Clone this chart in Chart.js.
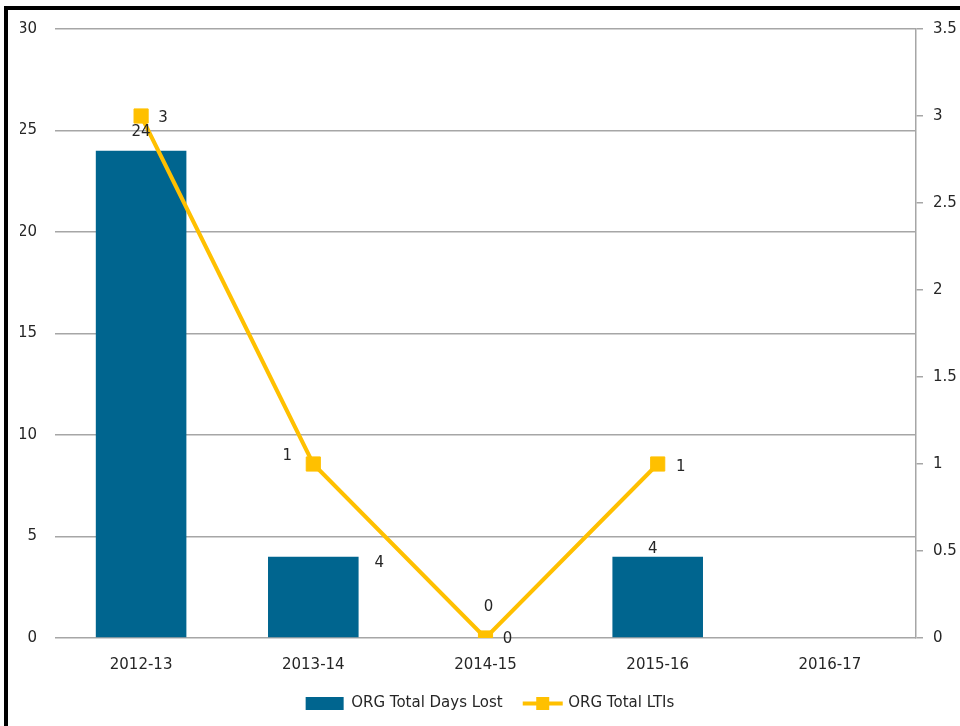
<!DOCTYPE html>
<html>
<head>
<meta charset="utf-8">
<script src="https://cdn.jsdelivr.net/npm/chart.js@4"></script>
<style>
html,body{margin:0;padding:0;background:#fff;}
#wrap{position:relative;width:960px;height:726px;}
</style>
</head>
<body>
<div id="wrap"><canvas id="c" width="960" height="726"></canvas></div>
<script>
const categories = ['2012-13', '2013-14', '2014-15', '2015-16', '2016-17'];
const daysLost = [24, 4, 0, 4, null];
const totalLTIs = [3, 1, 0, 1, null];
const seriesNames = ['ORG Total Days Lost', 'ORG Total LTIs'];

// label offsets (pixels) relative to the mark
const barLabelOffsets = [[0, -19], [66, 6], [3, -31], [-5, -8], [0, 0]];
const lineLabelOffsets = [[22, 2], [-26, -8], [22, 1], [23, 3], [0, 0]];

const BAR_COLOR = '#00658F';
const LINE_COLOR = '#FFC000';
const GRID = '#a6a6a6';
const TEXT = '#262626';
const FONT = 'DejaVu Sans';

Chart.defaults.font.family = FONT;
Chart.defaults.font.size = 15;
Chart.defaults.color = TEXT;

const frame = {
  id: 'frame',
  beforeDraw(chart) {
    const ctx = chart.ctx;
    ctx.save();
    ctx.fillStyle = '#fff';
    ctx.fillRect(0, 0, chart.width, chart.height);
    ctx.fillStyle = '#000';
    ctx.fillRect(4, 6, 4, chart.height - 6);
    ctx.fillRect(4, 6, chart.width - 4, 4);
    ctx.restore();
  }
};

const dataLabels = {
  id: 'dataLabels',
  afterDatasetsDraw(chart) {
    const ctx = chart.ctx;
    ctx.save();
    ctx.font = '15px "' + FONT + '"';
    ctx.fillStyle = TEXT;
    ctx.textAlign = 'center';
    ctx.textBaseline = 'middle';
    const drawFor = (dsIndex, values, offsets) => {
      const meta = chart.getDatasetMeta(dsIndex);
      meta.data.forEach((el, i) => {
        const v = values[i];
        if (v === null || v === undefined) return;
        ctx.fillText(String(v), el.x + offsets[i][0], el.y + offsets[i][1]);
      });
    };
    drawFor(1, daysLost, barLabelOffsets);
    drawFor(0, totalLTIs, lineLabelOffsets);
    ctx.restore();
  }
};

const legendLineMarker = {
  id: 'legendLineMarker',
  afterDraw(chart) {
    const lg = chart.legend;
    if (!lg || !lg.legendItems) return;
    const ctx = chart.ctx;
    lg.legendItems.forEach((item, i) => {
      if (item.datasetIndex !== 0) return;
      const hb = lg.legendHitBoxes[i];
      const bw = lg.options.labels.boxWidth;
      const cy = hb.top + hb.height / 2;
      ctx.save();
      ctx.strokeStyle = LINE_COLOR;
      ctx.lineWidth = 4;
      ctx.beginPath();
      ctx.moveTo(hb.left, cy);
      ctx.lineTo(hb.left + bw + 2, cy);
      ctx.stroke();
      ctx.fillStyle = LINE_COLOR;
      ctx.fillRect(hb.left + bw / 2 + 1 - 6.5, cy - 6.5, 13, 13);
      ctx.restore();
    });
  }
};

new Chart(document.getElementById('c'), {
  data: {
    labels: categories,
    datasets: [
      {
        type: 'line',
        label: seriesNames[1],
        data: totalLTIs,
        yAxisID: 'y1',
        borderColor: LINE_COLOR,
        backgroundColor: LINE_COLOR,
        borderWidth: 4,
        tension: 0,
        pointStyle: 'rect',
        pointRadius: 10,
        pointBorderWidth: 1,
        pointBackgroundColor: LINE_COLOR,
        pointBorderColor: LINE_COLOR,
        order: 0
      },
      {
        type: 'bar',
        label: seriesNames[0],
        data: daysLost,
        yAxisID: 'y',
        backgroundColor: BAR_COLOR,
        borderWidth: 0,
        barPercentage: 1,
        categoryPercentage: 0.526,
        order: 0
      }
    ]
  },
  options: {
    responsive: false,
    animation: false,
    events: [],
    layout: { padding: { left: 20, right: 0, top: 29, bottom: 5 } },
    plugins: {
      tooltip: { enabled: false },
      legend: {
        position: 'bottom',
        labels: {
          boxWidth: 38,
          boxHeight: 13,
          padding: 20,
          color: TEXT,
          font: { size: 15, family: FONT },
          sort: (a, b) => b.datasetIndex - a.datasetIndex,
          generateLabels(chart) {
            const items = Chart.defaults.plugins.legend.labels.generateLabels(chart);
            items.forEach(it => {
              if (it.datasetIndex === 0) {
                it.fillStyle = 'rgba(0,0,0,0)';
                it.strokeStyle = 'rgba(0,0,0,0)';
                it.lineWidth = 0;
              } else {
                it.fillStyle = BAR_COLOR;
                it.strokeStyle = BAR_COLOR;
                it.lineWidth = 0;
              }
            });
            return items;
          }
        }
      }
    },
    scales: {
      x: {
        grid: { display: false },
        border: { display: false },
        ticks: { padding: 10, color: TEXT, font: { size: 15 } },
        afterFit(scale) { scale.height = 38; }
      },
      y: {
        position: 'left',
        min: 0,
        max: 30,
        ticks: { stepSize: 5, padding: 18, color: TEXT, font: { size: 15 } },
        grid: { color: GRID, lineWidth: 1.5, drawTicks: false },
        border: { display: false },
        afterFit(scale) { scale.width = 35; }
      },
      y1: {
        position: 'right',
        min: 0,
        max: 3.5,
        ticks: {
          stepSize: 0.5, padding: 10, color: TEXT, font: { size: 15 },
          callback: (v) => String(v)
        },
        grid: { drawOnChartArea: false, drawTicks: true, tickLength: 7, color: GRID, lineWidth: 1.5 },
        border: { display: true, color: GRID, width: 1.5 },
        afterFit(scale) { scale.width = 44; }
      }
    }
  },
  plugins: [frame, dataLabels, legendLineMarker]
});
</script>
</body>
</html>
